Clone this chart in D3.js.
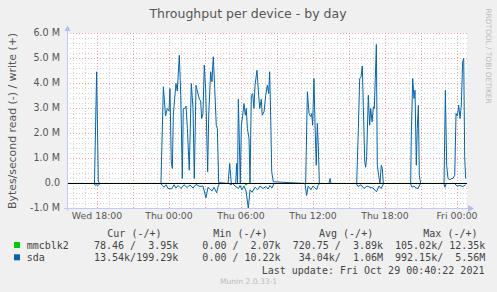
<!DOCTYPE html>
<html>
<head>
<meta charset="utf-8">
<script src="https://cdn.jsdelivr.net/npm/d3@7"></script>
<style>
    body { margin: 0; background: #f0f0f0; }
    svg { display: block; font-family: "DejaVu Sans", sans-serif; }
    .mono { font-family: "DejaVu Sans Mono", monospace; font-size: 10px; fill: #444; }
</style>
</head>
<body>
<svg id="chart" width="497" height="292"></svg>
<script>
// hours relative to Wed 18:00, values in M bytes/s
var sdaWriteHours = [-2.5, -0.21, -0.03, 0.11, 0.21,
    5.33, 5.53, 5.71, 5.86, 6.0, 6.08, 6.19, 6.28, 6.36, 6.47, 6.58, 6.69, 6.86, 6.98, 7.11, 7.19, 7.33, 7.42, 7.53, 7.69,
    7.86, 8.0, 8.11, 8.25, 8.36, 8.53, 8.64, 8.72, 8.83, 8.94, 9.06, 9.14, 9.22, 9.31, 9.47, 9.58, 9.69, 9.81, 9.94, 10.03, 10.14,
    10.92, 11.06, 11.19, 11.56, 11.64, 11.71, 11.78, 11.94, 12.03, 12.14, 12.25, 12.36, 12.44, 12.53, 12.67, 12.75, 12.86,
    12.97, 13.08, 13.17, 13.33, 13.47, 13.56, 13.69, 13.77, 13.92, 14.06, 14.19, 14.31, 14.39, 14.47, 14.56, 14.69,
    17.39, 17.53, 17.67, 17.81, 17.89, 17.97, 18.08, 18.17, 18.27, 18.36, 18.44, 18.53, 19.33, 19.42, 19.5,
    21.64, 21.78, 21.89, 22.0, 22.11, 22.19, 22.31, 22.39, 22.47, 22.61, 22.72, 22.81, 22.92, 23.03, 23.11, 23.19, 23.28,
    23.36, 23.47, 23.58, 23.69, 23.78, 23.86,
    26.14, 26.19, 26.31, 26.42, 26.5, 26.61, 26.69, 26.78, 26.86, 26.97,
    28.92, 29.03, 29.14, 29.25, 29.42, 29.56, 29.67, 29.81, 29.92, 30.03, 30.14, 30.25, 30.36, 30.47, 30.56, 30.64, 30.72];
var sdaWrite = [0, 0, 4.47, 0.1, 0,
    0, 3.87, 2.7, 3.0, 2.9, 3.8, 0.88, 0.6, 2.73, 3.4, 4.0, 3.7, 5.13, 3.53, 0.2, 3.0, 3.0, 3.1, 2.2, 0.53,
    4.0, 3.0, 0.2, 3.93, 3.7, 3.37, 3.3, 2.6, 2.8, 4.73, 3.7, 2.07, 0.47, 2.73, 4.47, 4.07, 5.07, 3.8, 2.33, 2.2, 0.04,
    0, 0.8, 0, 0, 0.8, 0, 3.37, 0, 2.33, 2.73, 3.2, 2.73, 3.0, 2.2, 1.8, 0, 3.53,
    3.6, 3.0, 3.93, 4.53, 3.53, 3.0, 3.37, 2.73, 2.87, 3.53, 3.93, 3.6, 4.47, 2.73, 0.47, 0.07,
    0, 3.67, 2.8, 2.67, 2.8, 2.33, 4.2, 2.33, 0.73, 2.4, 1.53, 0, 0, 0.2, 0,
    0, 2.2, 4.2, 4.25, 4.7, 3.13, 0.88, 0.65, 1.07, 3.53, 2.33, 3.0, 2.47, 3.07, 3.0, 4.2, 5.56,
    0.73, 0.33, 0, 0.73, 0.6, 0,
    0, 1.93, 4.2, 3.4, 3.73, 0.73, 2.2, 3.13, 0.33, 0,
    0, 3.73, 0.73, 0.2, 0.15, 0.2, 0.2, 0.33, 2.8, 2.7, 3.13, 2.6, 3.13, 4.87, 5.0, 1.07, 0.2];

var sdaReadHours = [-2.5, -0.25, -0.15, 0.0, 0.1, 0.25,
    5.3, 5.45, 5.58, 5.75, 5.92, 6.22, 6.42, 6.58, 6.75, 7.0, 7.25, 7.5, 7.75, 8.0, 8.25, 8.58, 8.83, 9.08, 9.25, 9.58,
    9.75, 9.97, 10.13, 10.25,
    11.0, 11.17, 11.3, 11.5, 11.79, 11.92, 12.08, 12.25, 12.42, 12.61, 12.75, 12.92, 13.17, 13.38, 13.58, 13.83,
    14.08, 14.25, 14.42, 14.58, 14.75,
    17.33, 17.47, 17.6, 17.83, 18.0, 18.31, 18.42, 18.54,
    21.6, 21.75, 22.0, 22.25, 22.5, 22.75, 23.0, 23.29, 23.5, 23.67, 23.88,
    26.12, 26.25, 26.42, 26.58, 26.75, 26.95,
    28.9, 29.0, 29.1, 29.8, 30.0, 30.25, 30.5, 30.72];
var sdaRead = [0, 0, 0.07, 0.05, 0.08, 0,
    0, 0.08, 0.15, 0.05, 0.2, 0.21, 0.05, 0.18, 0.08, 0.2, 0.05, 0.16, 0.06, 0.18, 0.04, 0.12, 0.1, 0.57, 0.15, 0.3,
    0.15, 0.37, 0.05, 0,
    0, 0.05, 0, 0.1, 0.2, 0.08, 0.25, 0.1, 0.3, 0.99, 0.25, 0.35, 0.15, 0.25, 0.1, 0.2,
    0.12, 0.22, 0.08, 0.18, 0,
    0, 0.48, 0.1, 0.25, 0.1, 0.24, 0.08, 0,
    0, 0.12, 0.05, 0.2, 0.1, 0.15, 0.18, 0.33, 0.1, 0.2, 0,
    0, 0.15, 0.1, 0.18, 0.2, 0,
    0, 0.15, 0, 0, 0.1, 0.08, 0.12, 0.05];

var mmcHours = [-2.5, 5.5, 9.0, 12.3, 12.42, 12.55, 18.0, 23.0, 30.72];
var mmcWrite = [0.004, 0.004, 0.002, 0.004, 0.004, 0.002, 0.004, 0.004, 0.004];
var mmcRead = [0, 0, 0.001, 0.0, 0.07, 0.0, 0, 0, 0];

var yTicks = [-1, 0, 1, 2, 3, 4, 5, 6];
var yTickLabels = ["-1.0 M", "0.0", "1.0 M", "2.0 M", "3.0 M", "4.0 M", "5.0 M", "6.0 M"];
var xTickHours = [0, 6, 12, 18, 24, 30];

var legendNames = ["mmcblk2", "sda"];
var legendColors = ["#00cc00", "#0066b3"];
var legendRows = ["78.46 /  3.95k    0.00 /  2.07k  720.75 /  3.89k  105.02k/ 12.35k",
                  "13.54k/199.29k    0.00 / 10.22k   34.04k/  1.06M  992.15k/  5.56M"];

var base = new Date(2021, 9, 27, 18, 0, 0);
function hrs(h) { return new Date(base.getTime() + h * 3600000); }

// plot box (munin's 400x175 canvas)
var pLeft = 67, pRight = 467, pTop = 33, pBottom = 208;

var svg = d3.select("#chart");
svg.append("rect").attr("width", 497).attr("height", 292).attr("fill", "#f0f0f0");
svg.append("rect")
    .attr("x", pLeft).attr("y", pTop)
    .attr("width", pRight - pLeft).attr("height", pBottom - pTop)
    .attr("fill", "#ffffff");

var x = d3.scaleTime().domain([hrs(-2.5), hrs(30.833)]).range([pLeft, pRight]);
var y = d3.scaleLinear().domain([-1, 6]).range([pBottom, pTop]);

// grid
var grid = svg.append("g");
var minorX = x.ticks(d3.timeHour.every(1));
var majorX = x.ticks(d3.timeHour.every(3));
grid.selectAll(".vmin").data(minorX).enter().append("line")
    .attr("x1", function(d) { return Math.round(x(d)) + 0.5; })
    .attr("x2", function(d) { return Math.round(x(d)) + 0.5; })
    .attr("y1", pTop).attr("y2", pBottom)
    .attr("stroke", "#d4d4d4").attr("stroke-dasharray", "1,2");
var minorY = d3.range(-5, 31).map(function(i) { return i / 5; });
grid.selectAll(".hmin").data(minorY).enter().append("line")
    .attr("x1", pLeft).attr("x2", pRight)
    .attr("y1", function(d) { return Math.round(y(d)) + 0.5; })
    .attr("y2", function(d) { return Math.round(y(d)) + 0.5; })
    .attr("stroke", "#d4d4d4").attr("stroke-dasharray", "1,2");
grid.selectAll(".vmaj").data(majorX).enter().append("line")
    .attr("x1", function(d) { return Math.round(x(d)) + 0.5; })
    .attr("x2", function(d) { return Math.round(x(d)) + 0.5; })
    .attr("y1", pTop).attr("y2", pBottom)
    .attr("stroke", "#eaa4a4").attr("stroke-dasharray", "1,2");
grid.selectAll(".hmaj").data(yTicks).enter().append("line")
    .attr("x1", pLeft).attr("x2", pRight)
    .attr("y1", function(d) { return Math.round(y(d)) + 0.5; })
    .attr("y2", function(d) { return Math.round(y(d)) + 0.5; })
    .attr("stroke", "#eaa4a4").attr("stroke-dasharray", "1,2");

// series: write up, read down
function series(hours, vals, sign) {
    return hours.map(function(h, i) { return [hrs(h), sign * vals[i]]; });
}
var line = d3.line()
    .x(function(d) { return x(d[0]); })
    .y(function(d) { return y(d[1]); });

var plot = [
    { data: series(mmcHours, mmcWrite, 1), color: legendColors[0] },
    { data: series(mmcHours, mmcRead, -1), color: legendColors[0] },
    { data: series(sdaReadHours, sdaRead, -1), color: legendColors[1] },
    { data: series(sdaWriteHours, sdaWrite, 1), color: legendColors[1] }
];
// half pixel shift so flat zero stretches sit under the zero rule
svg.append("g").attr("transform", "translate(0,0.5)")
    .selectAll(".series").data(plot).enter().append("path")
    .attr("d", function(d) { return line(d.data); })
    .attr("fill", "none")
    .attr("stroke", function(d) { return d.color; })
    .attr("stroke-width", 1);

// zero rule
svg.append("line")
    .attr("x1", pLeft).attr("x2", pRight)
    .attr("y1", Math.round(y(0)) + 0.5).attr("y2", Math.round(y(0)) + 0.5)
    .attr("stroke", "#000").attr("stroke-width", 1);

// axes with arrows
svg.append("line").attr("x1", pLeft + 0.5).attr("x2", pLeft + 0.5).attr("y1", pBottom + 3).attr("y2", 29)
    .attr("stroke", "#c4c8f4");
svg.append("line").attr("x1", pLeft - 3).attr("x2", 469).attr("y1", pBottom + 0.5).attr("y2", pBottom + 0.5)
    .attr("stroke", "#c4c8f4");
svg.append("path").attr("d", "M64.5,31L67.5,25.5L70.5,31Z").attr("fill", "#b4bcf4");
svg.append("path").attr("d", "M468,205L474,208.5L468,212Z").attr("fill", "#b4bcf4");

// tick labels
svg.selectAll(".ylab").data(yTicks).enter().append("text")
    .attr("x", 60).attr("y", function(d) { return y(d); })
    .attr("dy", "0.35em")
    .attr("text-anchor", "end")
    .attr("font-size", "9.6px").attr("fill", "#555")
    .text(function(d, i) { return yTickLabels[i]; });

var fmt = d3.timeFormat("%a %H:%M");
svg.selectAll(".xlab").data(xTickHours).enter().append("text")
    .attr("x", function(d) { return x(hrs(d)); }).attr("y", 218.5)
    .attr("text-anchor", "middle")
    .attr("font-size", "9.4px").attr("fill", "#555")
    .text(function(d) { return fmt(hrs(d)); });

// titles
svg.append("text").attr("x", 248).attr("y", 17.8).attr("text-anchor", "middle")
    .attr("font-size", "12.5px").attr("fill", "#555")
    .text("Throughput per device - by day");
svg.append("text").attr("transform", "translate(16,121) rotate(-90)")
    .attr("text-anchor", "middle").attr("font-size", "10.9px").attr("fill", "#555")
    .text("Bytes/second read (-) / write (+)");
svg.append("text").attr("transform", "translate(486,56) rotate(90)")
    .attr("text-anchor", "middle").attr("font-size", "7.4px").attr("fill", "#bbb")
    .text("RRDTOOL / TOBI OETIKER");

// legend
var heads = [["Cur (-/+)", 107.3], ["Min (-/+)", 213.3], ["Avg (-/+)", 319], ["Max (-/+)", 423.3]];
svg.selectAll(".head").data(heads).enter().append("text")
    .attr("class", "mono").attr("x", function(d) { return d[1]; }).attr("y", 237)
    .text(function(d) { return d[0]; });
legendNames.forEach(function(n, i) {
    var yy = 248.7 + i * 12.3;
    svg.append("rect").attr("x", 14).attr("y", yy - 6.7).attr("width", 6).attr("height", 6)
        .attr("fill", legendColors[i]);
    svg.append("text").attr("class", "mono").attr("x", 26.7).attr("y", yy).text(n);
    svg.append("text").attr("class", "mono").attr("x", 94).attr("y", yy)
        .attr("xml:space", "preserve").style("white-space", "pre").text(legendRows[i]);
});
svg.append("text").attr("class", "mono").attr("x", 261.7).attr("y", 273.7)
    .text("Last update: Fri Oct 29 00:40:22 2021");
svg.append("text").attr("x", 248.5).attr("y", 284).attr("text-anchor", "middle")
    .attr("font-size", "7.6px").attr("fill", "#bbb")
    .text("Munin 2.0.33-1");
</script>
</body>
</html>
